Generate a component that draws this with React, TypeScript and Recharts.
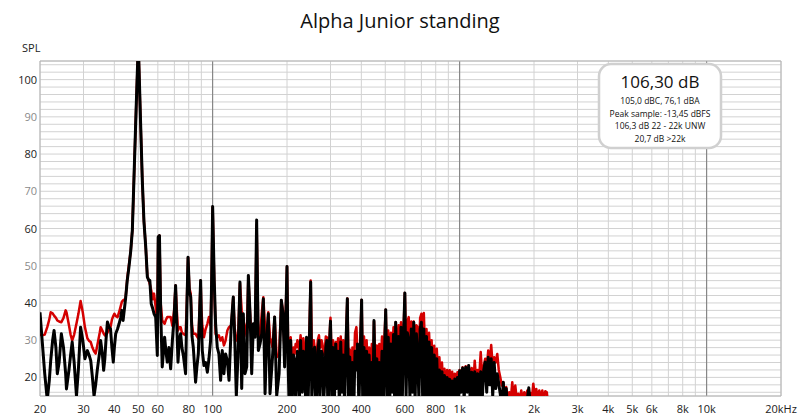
import React from 'react';
import { LineChart, Line, XAxis, YAxis, CartesianGrid, ReferenceLine } from 'recharts';

const freqHz = [
  20.0, 20.4, 20.9, 21.4, 21.8, 22.1, 22.5, 22.8, 23.2, 23.5,
  23.9, 24.4, 24.9, 25.4, 25.6, 26.2, 26.6, 27.0, 27.5, 28.1,
  28.6, 29.2, 29.8, 30.4, 31.1, 31.6, 32.1, 32.6, 33.1, 33.6,
  34.1, 34.9, 35.2, 35.8, 36.2, 36.6, 37.0, 37.5, 38.1, 38.6,
  39.1, 39.6, 40.0, 40.5, 41.2, 41.8, 42.4, 42.9, 43.4, 44.4,
  45.1, 45.8, 46.6, 47.3, 48.0, 49.0, 50.0, 51.0, 51.9, 52.7,
  53.6, 54.4, 55.2, 55.7, 56.4, 57.2, 57.9, 58.8, 59.7, 60.2,
  60.9, 61.6, 62.5, 63.9, 64.7, 65.5, 66.5, 67.6, 68.7, 69.8,
  70.8, 71.6, 72.4, 73.3, 74.2, 75.1, 76.1, 77.7, 78.6, 79.5,
  80.5, 81.5, 82.5, 83.5, 85.3, 86.4, 87.5, 88.5, 89.4, 90.1,
  90.8, 92.2, 93.7, 95.2, 96.6, 98.1, 99.0, 100.0, 101.5, 102.8,
  104.4, 106.0, 107.7, 109.4, 111.1, 112.8, 114.7, 116.5, 119.0, 121.2,
  122.7, 124.7, 126.6, 129.0, 131.1, 133.1, 135.2, 137.4, 139.5, 141.8,
  143.9, 146.2, 148.5, 150.7, 153.1, 155.5, 158.0, 160.4, 163.0, 165.6,
  168.0, 170.7, 174.7, 178.2, 181.7, 185.8, 189.7, 192.6, 195.6, 200.0,
  202.0, 203.8, 205.4, 207.0, 208.6, 210.2, 212.4, 214.7, 216.8, 218.8,
  220.4, 222.1, 224.5, 227.0, 228.8, 230.6, 233.0, 235.6, 237.8, 240.0,
  241.8, 243.7, 246.5, 249.4, 252.0, 254.8, 256.7, 258.7, 261.1, 263.6,
  266.5, 269.5, 271.6, 273.8, 276.0, 278.2, 281.3, 284.4, 287.2, 290.0,
  292.3, 294.6, 297.3, 300, 304, 307, 311, 315, 318, 322, 326, 330,
  334, 338, 342, 346, 351, 355, 359, 364, 368, 373,
  377, 382, 386, 391, 396, 401, 405, 410, 415, 420,
  425, 430, 436, 441, 446, 450, 456, 462, 468, 473,
  479, 485, 491, 497, 502, 508, 514, 521, 527, 533,
  540, 546, 551, 559, 566, 572, 579, 586, 593, 600,
  607, 614, 622, 629, 637, 645, 652, 660, 668, 676,
  684, 692, 700, 708, 716, 725, 734, 743, 752, 761,
  770, 779, 789, 798, 808, 818, 828, 838, 848, 858,
  868, 879, 890, 900, 911, 922, 933, 945, 956, 968,
  980, 992, 1000, 1014, 1028, 1043, 1058, 1073, 1088, 1103,
  1119, 1135, 1151, 1167, 1183, 1200, 1217, 1234, 1252, 1269,
  1287, 1305, 1324, 1342, 1361, 1380, 1400, 1420, 1440, 1460,
  1481, 1502, 1523, 1544, 1566, 1588, 1611, 1633, 1656, 1680,
  1703, 1727, 1752, 1776, 1801, 1827, 1852, 1879, 1905, 1932,
  1959, 1987, 2015, 2043, 2072, 2101, 2131, 2161, 2191, 2222,
  2254, 2285, 2300,
];

const redSpl = [
  31.5, 31.3, 31.5, 33.5, 35.5, 37.5, 37.2, 36.6, 36, 35.3,
  35, 34.8, 36, 38, 37.5, 34, 31.5, 29.9, 31.5, 34.5,
  37, 40.5, 37.5, 33.5, 30.5, 29.8, 29.5, 28, 27, 26.4,
  28.5, 32, 33.5, 32.5, 31.8, 31.3, 31.5, 32, 33, 33.5,
  35.5, 36.5, 37.1, 36.5, 36.2, 37.5, 39, 40.3, 40.7, 41.1,
  46.5, 50, 54, 59.5, 73, 92, 110, 90, 73, 62,
  55, 47, 46, 45, 43.4, 41, 42.5, 38.9, 35, 57.7,
  58.1, 40, 35.3, 34.4, 35.5, 36.2, 36.2, 36.2, 33.9, 38,
  44.7, 38, 32.6, 33.5, 33.5, 32, 31.7, 31.3, 40, 52.3,
  44, 42.5, 34, 31.7, 31.7, 31, 30.4, 38, 46, 38,
  34, 30.8, 33, 34.4, 36.2, 34, 45, 65.7, 45, 31.7,
  30.8, 31.3, 29.9, 30.8, 28.6, 29.9, 32.6, 33.5, 34, 41.6,
  33.5, 29.9, 29.9, 45.2, 38, 35.3, 33.5, 31, 47, 37,
  30, 33.5, 31, 61, 30.8, 30.8, 37.1, 41.5, 33.5, 29.9,
  37.5, 30.8, 28.1, 36.2, 25.4, 26.3, 40.7, 38, 26.3, 49.8,
  30, 28.1, 30, 30.8, 26, 22.8, 28, 26.3, 29, 28.1,
  30, 29, 27, 31.3, 29, 26.3, 30.5, 27.2, 28, 29.9,
  27, 25.4, 33, 46, 29, 26.3, 30, 28.1, 27, 26.3,
  30, 31.3, 28, 28.1, 30, 29, 26, 27.2, 31, 30.8,
  28, 27, 31, 36, 22, 30, 24, 29.5, 21, 30.5, 23, 31,
  25, 30, 22, 29, 41.2, 24, 27.5, 20, 28, 22,
  32, 33.5, 26, 21, 30, 40.8, 24, 31, 23, 30,
  22, 28, 21, 29, 22, 35, 23, 28.6, 21, 29,
  24, 31, 22, 32, 38.2, 25, 32.6, 23, 32, 26,
  33.5, 24, 34.8, 25, 34, 24, 34.8, 26, 33, 42.7,
  27, 35, 36.2, 26, 35, 28, 35, 25, 34, 33.5,
  27, 36, 37.1, 28, 37.3, 27, 33, 25, 32, 24,
  30, 22, 28.5, 21, 27.7, 20, 25.4, 19, 24, 18,
  22.3, 17, 22, 18, 21.9, 16, 21.5, 17, 21, 18,
  21.4, 19, 22, 19, 22.7, 18, 23, 19, 23.2, 20,
  22.5, 18, 24.5, 19, 22, 20, 26.8, 20, 23, 25,
  22, 27.2, 24, 28.7, 23, 25.4, 24, 26.3, 22, 20.1,
  17.8, 18.7, 16, 17.4, 14, 16, 14, 18.7, 14.5, 17.8,
  14, 15.6, 14, 16.5, 14, 16, 14.5, 16.5, 14, 15.8,
  14, 18.3, 15, 16.9, 14, 16.5, 14.5, 16.5, 14, 16.3,
  16, 12, 10,
];

const blackSpl = [
  37.5, 30, 21, 14, 19, 24.5, 30, 32.6, 28, 21,
  24, 31.7, 28, 21, 16.9, 22, 26, 29.5, 24, 15,
  22, 33.5, 30, 25, 27.2, 26, 24.5, 20, 15, 18,
  21.9, 27, 29.9, 26, 21.9, 25, 30, 34.9, 33.5, 33,
  28, 24.1, 28, 31.7, 33, 34.4, 36, 38, 35.3, 41.1,
  46, 49.5, 54, 59.5, 73, 92, 110, 90, 73, 62,
  55, 47, 46, 46, 39.8, 38.5, 37.1, 36.2, 25.9, 57.7,
  58.1, 38, 22.8, 30.8, 27, 24.1, 28, 22.3, 29.9, 36,
  44.7, 34, 24.1, 30, 31.7, 28, 25.9, 21, 38, 52.3,
  43, 41.6, 31, 28.1, 18.7, 23, 26.3, 37, 46, 34,
  27.2, 23.2, 24, 21.4, 25, 29.9, 45, 65.9, 46, 34.4,
  28.1, 26.3, 19.2, 27.2, 21, 26.3, 24.5, 19.2, 34.4, 41.6,
  31.7, 15, 25.4, 45.6, 17, 37.1, 21, 22.8, 47.4, 36.6,
  21, 34.4, 30.8, 62.3, 27.2, 29, 31.7, 41.1, 15.6, 30.8,
  37.1, 15.6, 25.4, 36.2, 15.1, 21, 40.7, 37.1, 22.8, 49.8,
  24, 14, 27, 29.9, 15, 14, 26, 24.5, 14, 20.1,
  27, 25.4, 13, 29.9, 22, 16, 27, 26.3, 14, 30.8,
  22, 14, 30, 45.6, 14, 21, 27, 28.1, 13, 15,
  27, 29.9, 14, 22.8, 27, 26.3, 13, 19.2, 28, 29.9,
  14, 14, 29, 35.1, 14, 28, 13, 29, 17, 27, 12, 29.5,
  16, 26, 13, 27, 41.1, 12, 25.5, 14, 24, 12,
  27, 22, 29, 12, 27, 40.8, 14, 28, 12, 27,
  15, 26, 12, 24, 14, 35.3, 13, 25, 12, 24,
  14, 27, 12, 28, 38.2, 14, 30.8, 13, 29, 16,
  31.5, 12, 34.8, 15, 31, 13, 33.5, 14, 31, 42.7,
  15, 32, 30, 14, 33, 16, 34.8, 13, 31.7, 26,
  14, 33, 34.8, 15, 33, 14, 31, 13, 29.5, 14,
  28, 12, 26, 13, 25, 12, 22, 12, 21.5, 12,
  20.5, 11, 20, 12, 19.5, 12, 19, 12, 19.6, 13,
  20, 15, 21.8, 16, 22.5, 14, 22.7, 16, 23.2, 14,
  21.4, 13, 21.5, 14, 21, 13, 21.5, 14, 22, 24.1,
  16, 25.4, 18, 25, 15, 24, 17, 21, 18.3, 15.6,
  12, 18.7, 12, 17, 10, 10, 10, 10, 10, 10,
  10, 10, 10, 10, 10, 10, 10, 14, 17.2, 13,
  10, 10, 10, 10, 10, 10, 10, 10, 10, 10,
  10, 10, 10,
];

const gridFreqs = [
  20, 30, 40, 50, 60, 70, 80, 90, 100, 200, 300, 400, 500, 600, 700, 800, 900,
  1000, 2000, 3000, 4000, 5000, 6000, 7000, 8000, 9000, 10000, 20000,
];
const majorFreqs = [100, 1000, 10000];
const xLabelValues = [20, 30, 40, 50, 60, 80, 100, 200, 300, 400, 600, 800, 1000, 2000, 3000, 4000, 5000, 6000, 8000, 10000, 20000];
const xLabelTexts = ['20', '30', '40', '50', '60', '80', '100', '200', '300', '400', '600', '800', '1k', '2k', '3k', '4k', '5k', '6k', '8k', '10k', '20kHz'];

const splTicks = [15, 16, 18, 20, 22, 24, 26, 28, 30, 32, 34, 36, 38, 40, 42, 44, 46, 48, 50, 52, 54, 56, 58, 60, 62, 64, 66, 68, 70, 72, 74, 76, 78, 80, 82, 84, 86, 88, 90, 92, 94, 96, 98, 100, 102, 104, 105];
const splLabels = [20, 30, 40, 50, 60, 70, 80, 90, 100];

const chartTitle = 'Alpha Junior standing';
const boxMain = '106,30 dB';
const boxLines = ['105,0 dBC, 76,1 dBA', 'Peak sample: -13,45 dBFS', '106,3 dB 22 - 22k UNW', '20,7 dB >22k'];

const rows = freqHz.map((f, i) => ({ f, red: redSpl[i], black: blackSpl[i] }));

const FONT = '"Open Sans", "Noto Sans", sans-serif';

const XTick = (props: any) => {
  const { x, y, payload } = props;
  const idx = xLabelValues.indexOf(payload.value);
  if (idx < 0) return <g />;
  return (
    <text x={x} y={y} dy={17} textAnchor="middle" fontSize={11} fontFamily={FONT} fill="#222">
      {xLabelTexts[idx]}
    </text>
  );
};

const YTick = (props: any) => {
  const { x, y, payload } = props;
  const v = payload.value;
  if (splLabels.indexOf(v) < 0) return <g />;
  const gray = v % 20 !== 0;
  return (
    <text x={x - 3} y={y} dy={4} textAnchor="end" fontSize={11} fontFamily={FONT} fill={gray ? '#8a8a8a' : '#222'}>
      {v}
    </text>
  );
};

export default function App() {
  return (
    <div style={{ position: 'absolute', left: 0, top: 0, width: 800, height: 420, background: '#fff' }}>
      <LineChart width={800} height={420} data={rows} margin={{ top: 61, right: 19, bottom: 0, left: 0 }}>
        <CartesianGrid stroke="#d2d2d2" strokeWidth={1} />
        <XAxis
          dataKey="f"
          type="number"
          scale="log"
          domain={[20, 20000]}
          allowDataOverflow
          ticks={gridFreqs}
          interval={0}
          tick={<XTick />}
          tickLine={false}
          axisLine={false}
          tickSize={0}
          tickMargin={0}
          height={24}
        />
        <YAxis
          type="number"
          domain={[15, 105]}
          allowDataOverflow
          ticks={splTicks}
          interval={0}
          tick={<YTick />}
          tickLine={false}
          axisLine={false}
          tickSize={0}
          tickMargin={0}
          width={40}
        />
        {majorFreqs.map((m) => (
          <ReferenceLine key={m} x={m} stroke="#7a7a7a" strokeWidth={1} />
        ))}
        <ReferenceLine y={105} stroke="#b4b4b4" />
        <ReferenceLine y={15} stroke="#b4b4b4" />
        <ReferenceLine x={20} stroke="#b4b4b4" />
        <ReferenceLine x={20000} stroke="#b4b4b4" />
        <Line dataKey="red" stroke="#d40000" strokeWidth={2.5} strokeLinejoin="round" dot={false} isAnimationActive={false} />
        <Line dataKey="black" stroke="#000000" strokeWidth={3} strokeLinejoin="round" dot={false} isAnimationActive={false} />
      </LineChart>
      <svg width={800} height={420} style={{ position: 'absolute', left: 0, top: 0, pointerEvents: 'none' }}>
        <text x={400} y={28} textAnchor="middle" fontSize={20} fontFamily={FONT} fill="#111">
          {chartTitle}
        </text>
        <text x={22} y={52} fontSize={11} fontFamily={FONT} fill="#222">
          SPL
        </text>
        <rect x={599} y={64} width={122} height={84} rx={12} ry={12} fill="#fff" stroke="#d0d0d0" strokeWidth={2.5} />
        <text x={660} y={88} textAnchor="middle" fontSize={17} fontFamily={FONT} fill="#111">
          {boxMain}
        </text>
        {boxLines.map((t, i) => (
          <text key={t} x={660} y={104 + i * 12.6} textAnchor="middle" fontSize={8.5} fontFamily={FONT} fill="#111">
            {t}
          </text>
        ))}
      </svg>
    </div>
  );
}
